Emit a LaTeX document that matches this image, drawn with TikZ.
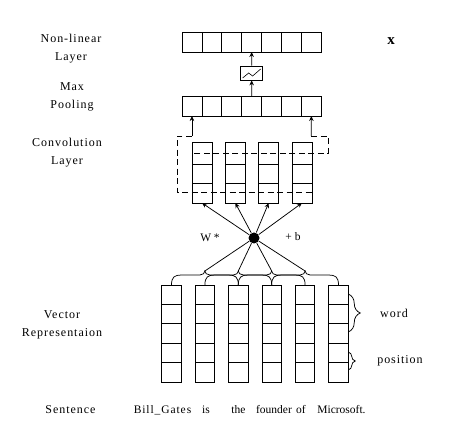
\documentclass[tikz,border=0pt]{standalone}
\usepackage{fontspec}
\setmainfont{Liberation Serif}
\newfontfamily\trackfont{Liberation Serif}[LetterSpace=8]
\usetikzlibrary{arrows.meta,calc,positioning,decorations.pathreplacing}
\tikzset{
  cell/.style={draw,inner sep=0pt,outer sep=0pt,minimum width=19.9pt,minimum height=20pt},
  convcol/.style={draw,inner sep=0pt,outer sep=0pt,minimum width=20pt,minimum height=61pt},
  veccol/.style={draw,inner sep=0pt,outer sep=0pt,minimum width=19.5pt,minimum height=97pt},
  window/.style={dash pattern=on 6pt off 3.5pt},
  arrow/.style={-{Stealth[length=5pt,width=4.5pt]}},
  sidetext/.style={align=center,font=\trackfont\fontsize{12}{18}\selectfont},
  every node/.style={font=\fontsize{11.5}{14}\selectfont}
}

\begin{document}
\begin{tikzpicture}[x=1pt,y=-1pt,line width=0.75pt]
  \useasboundingbox (0,0) rectangle (472,438);
  % non-linear layer and max pooling rows
  \foreach \i in {1,...,7}{
    \node[cell] (nl\i) at ({172.05+19.9*\i},42) {};
    \node[cell] (mp\i) at ({172.05+19.9*\i},106) {};
  }
  \node[draw,inner sep=0pt,minimum width=22pt,minimum height=14pt] (act) at (251.65,73) {};
  \draw[line width=0.6pt] ($(act.center)+(-9,5)$) -- ++(6,-5) -- ++(4,3) -- ++(8,-7);
  \draw[arrow] (mp4.north) -- (act.south);
  \draw[arrow] (act.north) -- (nl4.south);
  \node[font=\bfseries\fontsize{15}{15}\selectfont] (xvec) at (391,41) {x};
  % convolution layer
  \foreach \i in {1,...,4}{
    \node[convcol] (cv\i) at ({202+33.33*(\i-1)},172.5) {};
    \draw ($(cv\i.north west)+(0,22)$) -- ++(20,0);
    \draw ($(cv\i.north west)+(0,41)$) -- ++(20,0);
  }
  % pooling windows
  \coordinate (pl) at (191.95,136);
  \coordinate (pr) at (311.35,136);
  \draw[arrow] (pl) -- (mp1.south);
  \draw[arrow] (pr) -- (mp7.south);
  \draw[window] (pl) -| (177,192) -- (cv4.east |- 0,192);
  \draw[window] (pr) -| (328,153) -- (cv1.west |- 0,153);
  % filter
  \node[circle,fill,inner sep=0pt,minimum size=11pt] (dot) at (254,238) {};
  \node (wlab) at (210,238) {W *};
  \node (blab) at (293,237) {+ b};
  \foreach \i in {1,...,4}
    \draw[arrow] (dot) -- (cv\i.south);
  % vector representation
  \foreach \i in {1,...,6}{
    \node[veccol] (vr\i) at ({171.5+33.4*(\i-1)},333.5) {};
    \foreach \k in {1,...,4}
      \draw ($(vr\i.north west)+(0,19.4*\k)$) -- ++(19.5,0);
  }
  % windows of three words
  \foreach \i/\j/\k in {1/2/3,2/3/4,3/4/5,4/5/6}{
    \coordinate (tip\j) at ($(vr\j.north)+(0,-14)$);
    \draw (vr\i.north) .. controls ($(vr\i.north)+(0,-8)$) and ($(vr\i.north)+(3,-10)$)
      .. ($(vr\i.north)+(10,-10)$) -- ($(vr\j.north)+(-5,-10)$)
      .. controls ($(vr\j.north)+(-2,-10)$) and ($(vr\j.north)+(0,-12)$) .. (tip\j)
      .. controls ($(vr\j.north)+(0,-12)$) and ($(vr\j.north)+(2,-10)$)
      .. ($(vr\j.north)+(5,-10)$) -- ($(vr\k.north)+(-10,-10)$)
      .. controls ($(vr\k.north)+(-3,-10)$) and ($(vr\k.north)+(0,-8)$) .. (vr\k.north);
    \draw (dot) -- (tip\j);
  }
  \draw[decorate,decoration={brace,amplitude=12pt}]
    ($(vr6.north east)+(0,9)$) -- ($(vr6.north east)+(0,47)$);
  \draw[decorate,decoration={brace,amplitude=7pt}]
    ($(vr6.north east)+(0,67)$) -- ($(vr6.north east)+(0,85)$);
  \node[sidetext] (word) at (394,313) {word};
  \node[sidetext] (pos) at (400,361) {position};
  % side labels
  \node[sidetext] (lnl) at (71,49) {Non-linear\\Layer};
  \node[sidetext] (lmp) at (72,96.5) {Max\\Pooling};
  \node[sidetext] (lcv) at (67,152.5) {Convolution\\Layer};
  \node[sidetext] (lvr) at (62,325) {Vector\\Representaion};
  % sentence
  \node[sidetext,anchor=base] (lsn) at (70.5,414) {Sentence};
  \node[anchor=base] (w1) at (162.5,414) {\addfontfeature{LetterSpace=8}Bill\_Gates};
  \node[anchor=base] (w2) at (206,414) {is};
  \node[anchor=base] (w3) at (238.5,414) {the};
  \node[anchor=base] (w4) at (274,414) {founder};
  \node[anchor=base] (w5) at (301,414) {of};
  \node[anchor=base] (w6) at (341.5,414) {Microsoft.};
\end{tikzpicture}
\end{document}
